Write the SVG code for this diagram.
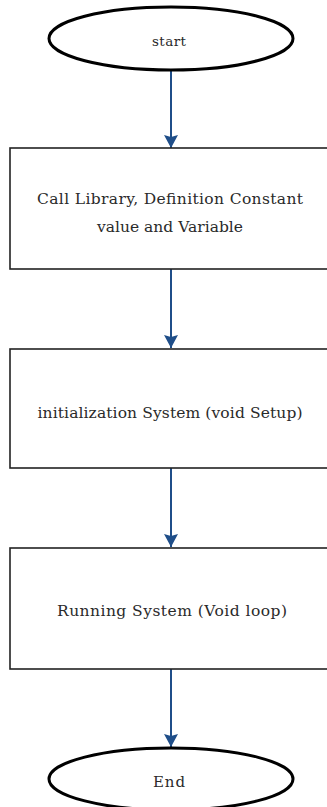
<svg xmlns="http://www.w3.org/2000/svg" width="327" height="807" viewBox="0 0 327 807">
<style>
.term{fill:#fff;stroke:#000;stroke-width:3}
.box{fill:#fff;stroke:#222;stroke-width:1.6}
.t{font-family:"DejaVu Serif","Liberation Serif",serif;fill:#2a2a2a;text-anchor:middle}
.conn{stroke:#1f4e89;stroke-width:2;fill:none}
</style>
<defs>
<marker id="ah" markerUnits="userSpaceOnUse" markerWidth="16" markerHeight="16" refX="13" refY="7" orient="auto">
<path d="M0,0 L13,7 L0,14 L2,7 Z" fill="#1f4e89"/>
</marker>
</defs>
<rect width="327" height="807" fill="#fff"/>
<g id="connectors">
<line class="conn" x1="171" y1="70" x2="171" y2="148" marker-end="url(#ah)"/>
<line class="conn" x1="171" y1="269" x2="171" y2="348" marker-end="url(#ah)"/>
<line class="conn" x1="171" y1="468" x2="171" y2="547" marker-end="url(#ah)"/>
<line class="conn" x1="171" y1="669" x2="171" y2="747" marker-end="url(#ah)"/>
</g>
<g id="start">
<ellipse class="term" cx="171" cy="38.5" rx="122" ry="31.5"/>
<text class="t" x="169" y="46" font-size="13.5" textLength="34" fill="#334">start</text>
</g>
<g id="init-lib">
<rect class="box" x="10" y="148" width="330" height="121"/>
<text class="t" x="170" y="204" font-size="15.5" textLength="266">Call Library, Definition Constant</text>
<text class="t" x="170" y="232" font-size="15.5" textLength="146">value and Variable</text>
</g>
<g id="setup">
<rect class="box" x="10" y="349" width="330" height="119"/>
<text class="t" x="170" y="418" font-size="15.5" textLength="265">initialization System (void Setup)</text>
</g>
<g id="loop">
<rect class="box" x="10" y="548" width="330" height="121"/>
<text class="t" x="172" y="616" font-size="15.5" textLength="230">Running System (Void loop)</text>
</g>
<g id="end">
<ellipse class="term" cx="171" cy="779" rx="122" ry="31"/>
<text class="t" x="169" y="787" font-size="15" textLength="32" fill="#334">End</text>
</g>
</svg>
